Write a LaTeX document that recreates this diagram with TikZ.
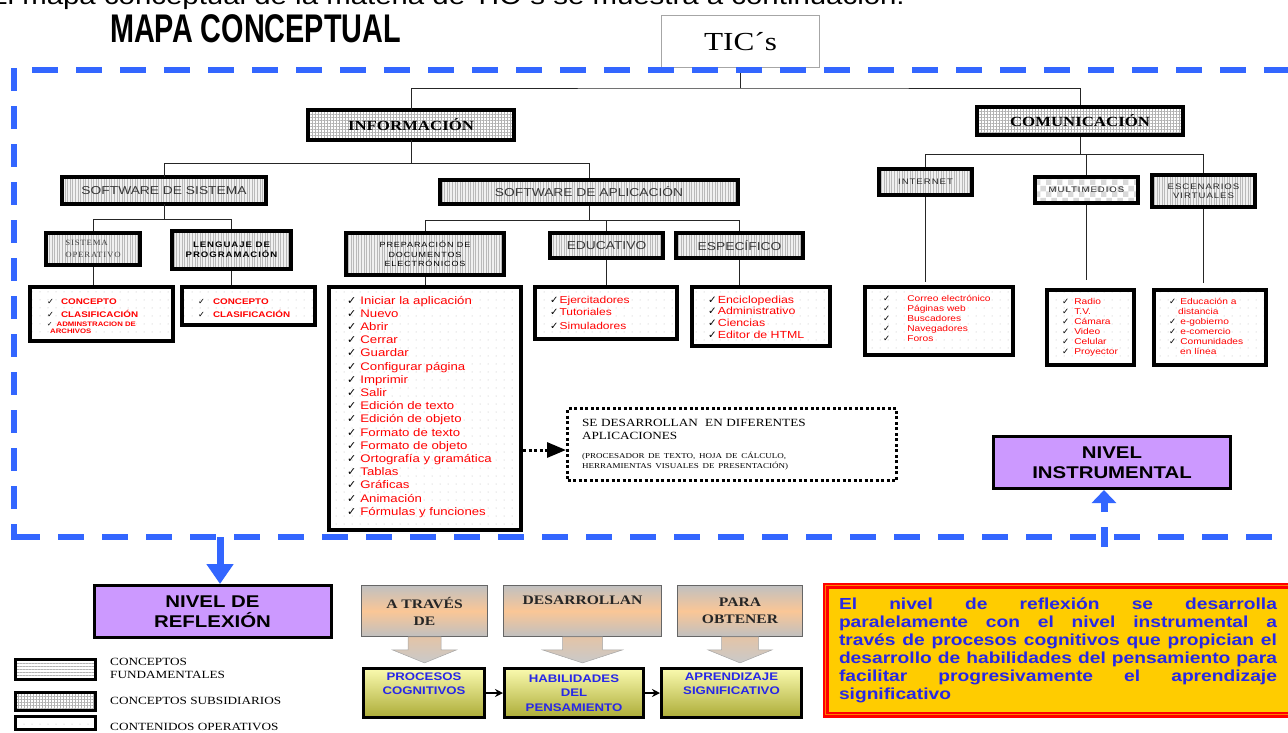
\documentclass[tikz,border=0pt]{standalone}
\usepackage{fontspec}
\setmainfont[FakeStretch=1.2]{Liberation Serif}
\newfontfamily\sansw[FakeStretch=1.2]{Liberation Sans}
\newfontfamily\sansls[FakeStretch=1.2,LetterSpace=12]{Liberation Sans}
\newfontfamily\serifls[FakeStretch=1.1,LetterSpace=10]{Liberation Serif}
\newfontfamily\mapfont[FakeStretch=0.72]{Liberation Sans}
\newfontfamily\chkfont{DejaVu Sans}
\usetikzlibrary{patterns,patterns.meta,arrows.meta,calc}

\definecolor{frameblue}{RGB}{51,102,255}
\definecolor{lilac}{RGB}{204,153,255}
\definecolor{peach}{RGB}{250,198,150}
\definecolor{ogray}{RGB}{192,192,192}
\definecolor{lightyel}{RGB}{250,250,175}
\definecolor{olive2}{RGB}{172,172,55}
\definecolor{txtblue}{RGB}{40,40,230}
\definecolor{gold}{RGB}{255,204,0}
\definecolor{labgray}{RGB}{55,55,55}

\newcommand{\fsz}[2]{\fontsize{#1}{#2}\selectfont}
\newcommand{\ck}[1][4pt]{{\chkfont\color{black}\char"2713}\hspace{#1}}
\newcommand{\lstlines}[1]{\parbox[t]{220pt}{\raggedright\leavevmode #1}}
\newcommand{\jline}[1]{\makebox[438pt][l]{#1}}
% block arrow below a box: node, half shaft, half head
\newcommand{\blkarrow}[3]{\draw[blkarr] ($(#1.south)+(-#2,0)$) -- ++(2*#2,0) -- ++(0,13) -- ++(#3-#2,0) -- ($(#1.south)+(0,26)$) -- ($(#1.south)+(-#3,13)$) -- ++(#3-#2,0) -- cycle;}

\begin{document}
\begin{tikzpicture}[x=1pt,y=-1pt,
  conn/.style={draw=black!85,line width=0.9pt},
  thickbox/.style={draw,line width=3.5pt,inner sep=0pt,align=center},
  fund/.style={thickbox,preaction={fill=gray!12},pattern={Lines[angle=90,distance=2.6pt,line width=0.7pt]},pattern color=gray!55,text=labgray},
  subs/.style={thickbox,preaction={fill=white},pattern={Hatch[angle=0,distance=3pt,line width=0.5pt]},pattern color=gray!60},
  oper/.style={thickbox,line width=4pt,preaction={fill=white},pattern={Dots[distance=8pt,radius=0.5pt]},pattern color=gray!55},
  lsttxt/.style={anchor=base west,inner sep=0pt,text=red},
  nivel/.style={draw,line width=3pt,fill=lilac,minimum width=237,minimum height=52,align=center,font=\sansw\bfseries\fsz{17}{20}},
  obox/.style={draw=black!60,line width=0.8pt,top color=ogray,bottom color=ogray,middle color=peach,minimum height=51,align=center,font=\bfseries\fsz{13}{17},text=black!85},
  gbox/.style={draw,line width=3pt,top color=lightyel,bottom color=olive2,minimum height=49,align=center,font=\sansw\bfseries\fsz{11}{14.5},text=txtblue},
  blkarr/.style={draw=gray!70,line width=0.5pt,top color=peach!60!ogray,bottom color=ogray!85},
  bluearr/.style={frameblue,line width=7pt},
  bluedash/.style={frameblue,line width=5.5pt}]
\useasboundingbox (0,0) rectangle (1288,732);
\clip (0,0) rectangle (1288,732);

% heading
\node[anchor=base east,inner sep=0pt,font=\sansw\fsz{24.5}{26}] (intro) at (905,4) {El mapa conceptual de la materia de TIC´s se muestra a continuación.};
\node[anchor=base west,inner sep=0pt,font=\mapfont\bfseries\fsz{40}{44}] (title) at (110,42) {MAPA CONCEPTUAL};

% main boxes
\node[draw=gray!70,line width=1pt,fill=white,minimum width=158,minimum height=52,font=\fsz{26}{28}] (tic) at (740.5,41.5) {TIC´s};
\node[subs,minimum width=206,minimum height=30,font=\bfseries\fsz{14}{16}] (info) at (411,125) {INFORMACIÓN};
\node[subs,minimum width=206,minimum height=28,font=\bfseries\fsz{14}{16}] (com) at (1080,121) {COMUNICACIÓN};

\node[fund,minimum width=204,minimum height=27,font=\sansw\fsz{11.5}{13}] (sws) at (164,190.5) {SOFTWARE DE SISTEMA};
\node[fund,minimum width=298,minimum height=24,font=\sansw\fsz{11.5}{13}] (swa) at (589,192) {SOFTWARE DE APLICACIÓN};
\node[fund,minimum width=94,minimum height=32,font=\serifls\fsz{8}{12},align=left,text=black!75] (so) at (93,249) {SISTEMA\\OPERATIVO};
\node[fund,minimum width=119,minimum height=38,font=\sansls\bfseries\fsz{8}{10},text=black] (lp) at (231.5,250) {LENGUAJE DE\\PROGRAMACIÓN};
\node[fund,minimum width=158,minimum height=42,font=\sansls\fsz{7.5}{9.5},text=black] (prep) at (425,254) {PREPARACIÓN DE\\DOCUMENTOS\\ELECTRÓNICOS};
\node[fund,minimum width=113,minimum height=25,font=\sansw\fsz{11.5}{13}] (edu) at (606.5,245.5) {EDUCATIVO};
\node[fund,minimum width=127,minimum height=25,font=\sansw\fsz{11.5}{13}] (esp) at (739.5,245.5) {ESPECÍFICO};

\node[fund,minimum width=93,minimum height=26,font=\sansls\fsz{8}{9.5},text=black!85] (inet) at (925.5,182) {INTERNET};
\node[thickbox,preaction={fill=white},pattern=checkerboard,pattern color=gray!30,minimum width=103,minimum height=26,font=\sansls\fsz{8}{9.5},text=black!85] (mm) at (1086.5,190) {MULTIMEDIOS};
\node[fund,minimum width=103,minimum height=32,font=\sansls\fsz{8}{9.5},text=black!85] (ev) at (1203.5,191) {ESCENARIOS\\VIRTUALES};

% list boxes
\node[oper,minimum width=143,minimum height=54] (sol) at (101.5,314) {};
\node[oper,minimum width=133,minimum height=38] (lpl) at (248.5,306) {};
\node[oper,minimum width=192,minimum height=243] (prepl) at (425,408.5) {};
\node[oper,minimum width=142,minimum height=52] (edul) at (606,313) {};
\node[oper,minimum width=138,minimum height=59] (espl) at (761,316.5) {};
\node[oper,minimum width=148,minimum height=68] (inetl) at (939,321) {};
\node[oper,minimum width=87,minimum height=75] (mml) at (1090.5,327.5) {};
\node[oper,minimum width=112,minimum height=75] (evl) at (1210,327.5) {};

% list texts
\node[lsttxt,font=\sansw\bfseries\fsz{8.2}{13}] (solt) at (47,304) {\lstlines{\ck[7pt]CONCEPTO\\ \ck[7pt]CLASIFICACIÓN\\[-4pt] {\fsz{6.5}{7}\ck[4pt]ADMINSTRACION DE}\\[-6pt] \hspace*{3pt}{\fsz{6.5}{7}ARCHIVOS}}};
\node[lsttxt,font=\sansw\bfseries\fsz{8.2}{13}] (lplt) at (198,304) {\lstlines{\ck[8pt]CONCEPTO\\ \ck[8pt]CLASIFICACIÓN}};
\node[lsttxt,font=\sansw\fsz{11}{13.2}] (prept) at (347,304) {\lstlines{\ck Iniciar la aplicación\\ \ck Nuevo\\ \ck Abrir\\ \ck Cerrar\\ \ck Guardar\\ \ck Configurar página\\ \ck Imprimir\\ \ck Salir\\ \ck Edición de texto\\ \ck Edición de objeto\\ \ck Formato de texto\\ \ck Formato de objeto\\ \ck Ortografía y gramática\\ \ck Tablas\\ \ck Gráficas\\ \ck Animación\\ \ck Fórmulas y funciones}};
\node[lsttxt,font=\sansw\fsz{10}{12}] (edult) at (550,303) {\lstlines{\ck[1pt]Ejercitadores\\ \ck[1pt]Tutoriales\\[2pt] \ck[1pt]Simuladores}};
\node[lsttxt,font=\sansw\fsz{10.3}{11.7}] (esplt) at (708,303) {\lstlines{\ck[1pt]Enciclopedias\\ \ck[1pt]Administrativo\\ \ck[1pt]Ciencias\\ \ck[1pt]Editor de HTML}};
\node[lsttxt,font=\sansw\fsz{8.5}{10}] (inetlt) at (883,301) {\lstlines{\ck[17pt]Correo electrónico\\ \ck[17pt]Páginas web\\ \ck[17pt]Buscadores\\ \ck[17pt]Navegadores\\ \ck[17pt]Foros}};
\node[lsttxt,font=\sansw\fsz{8.5}{10}] (mmlt) at (1062,304) {\lstlines{\ck[5pt]Radio\\ \ck[5pt]T.V.\\ \ck[5pt]Cámara\\ \ck[5pt]Video\\ \ck[5pt]Celular\\ \ck[5pt]Proyector}};
\node[lsttxt,font=\sansw\fsz{8.5}{10}] (evlt) at (1169,304) {\lstlines{\ck[4pt]Educación a\\ \hspace*{9pt}distancia\\ \ck[4pt]e-gobierno\\ \ck[4pt]e-comercio\\ \ck[4pt]Comunidades\\ \hspace*{11pt}en línea}};

% tree connectors
\draw[conn] (tic.south) -- ++(0,20) coordinate (t1);
\draw[conn] (info.north) |- (t1) -| (com.north);
\draw[conn] (info.south) -- ++(0,23) coordinate (i1);
\draw[conn] (sws.north) |- (i1) -| (swa.north);
\draw[conn] (sws.south) -- ++(0,15) coordinate (s1);
\draw[conn] (so.north) |- (s1) -| (lp.north);
\draw[conn] (so.south) -- (so.south |- sol.north);
\draw[conn] (lp.south) -- (lp.south |- lpl.north);
\draw[conn] (swa.south) -- ++(0,15) coordinate (a1);
\draw[conn] (prep.north) |- (a1) -| (esp.north);
\draw[conn] (edu.north) -- (edu.north |- a1);
\draw[conn] (prep.south) -- (prep.south |- prepl.north);
\draw[conn] (edu.south) -- (edu.south |- edul.north);
\draw[conn] (esp.south) -- (esp.south |- espl.north);
\draw[conn] (com.south) -- ++(0,18) coordinate (c1);
\draw[conn] (inet.north) |- (c1) -| (ev.north);
\draw[conn] (mm.north) -- (mm.north |- c1);
\draw[conn] (inet.south) -- ($(inet.south |- inetl.north)+(0,-3)$);
\draw[conn] (mm.south) -- ($(mm.south |- mml.north)+(0,-8)$);
\draw[conn] (ev.south) -- ($(ev.south |- evl.north)+(0,-5)$);

% applications note
\node[draw,line width=3pt,dash pattern=on 3pt off 2.5pt,minimum width=329,minimum height=72,text width=300pt,align=left,inner sep=0pt,font=\fsz{11}{10}] (sed) at (732,444.5) {SE DESARROLLAN\ \ EN DIFERENTES\\[3pt] APLICACIONES\\[9pt] {\fsz{7.5}{10}(PROCESADOR DE TEXTO, HOJA DE CÁLCULO,}\\ {\fsz{7.5}{10}HERRAMIENTAS VISUALES DE PRESENTACIÓN)}};
\coordinate (darr) at (0,450);
\draw[line width=3pt,dash pattern=on 3pt off 2.5pt,-{Triangle[length=19pt,width=15pt]}] (prepl.east |- darr) -- (sed.west |- darr);

% levels
\node[nivel] (instr) at (1112,462.5) {NIVEL\\INSTRUMENTAL};
\node[nivel] (refl) at (212.5,611.5) {NIVEL DE\\REFLEXIÓN};

% dashed frame
\draw[bluedash,dash pattern=on 26pt off 18pt,dash phase=26pt] (14,70) -- (1300,70);
\draw[bluedash,dash pattern=on 23pt off 15pt] (14,68) -- (14,540);
\draw[bluedash,dash pattern=on 26pt off 18pt] (14,537) -- (1300,537);
\coordinate (rtop) at (220,537);
\draw[bluearr,-{Triangle[width=26pt,length=20pt]}] (rtop) -- (rtop |- refl.north);
\coordinate (ibot) at (1104,547);
\draw[bluearr,dash pattern=on 20pt off 15pt,-{Triangle[width=24pt,length=13pt]}] (ibot) -- (ibot |- instr.south);

% legend
\node[thickbox,preaction={fill=white},pattern={Lines[angle=0,distance=3pt,line width=0.8pt]},pattern color=gray!60,minimum width=80,minimum height=20] (lg1) at (55.5,669.5) {};
\node[subs,minimum width=80,minimum height=18] (lg2) at (55.5,701.5) {};
\node[oper,line width=3.5pt,minimum width=80,minimum height=13] (lg3) at (55.5,723) {};
\node[anchor=base west,inner sep=0pt,font=\fsz{11}{13}] (lgt1) at (110,665) {\lstlines{CONCEPTOS\\FUNDAMENTALES}};
\node[anchor=base west,inner sep=0pt,font=\fsz{11}{13}] (lgt2) at (110,704) {CONCEPTOS SUBSIDIARIOS};
\node[anchor=base west,inner sep=0pt,font=\fsz{11}{13}] (lgt3) at (110,730) {CONTENIDOS OPERATIVOS};

% process chain
\node[obox,minimum width=126] (oa) at (424.5,611) {A TRAVÉS\\DE};
\node[obox,minimum width=158] (ob) at (582.5,611) {DESARROLLAN\\\strut};
\node[obox,minimum width=125] (oc) at (740,611) {PARA\\OBTENER};
\node[gbox,minimum width=121] (ga) at (424,693) {PROCESOS\\COGNITIVOS\\\strut};
\node[gbox,minimum width=139] (gb) at (574,693) {HABILIDADES\\DEL\\PENSAMIENTO};
\node[gbox,minimum width=140] (gc) at (731.5,693) {APRENDIZAJE\\SIGNIFICATIVO\\\strut};
\blkarrow{oa}{16.5}{32}
\blkarrow{ob}{20}{40}
\blkarrow{oc}{18.5}{32}
\draw[line width=1.5pt,-{Stealth[length=8pt,width=8pt]}] (ga.east) -- (gb.west);
\draw[line width=1.5pt,-{Stealth[length=8pt,width=8pt]}] (gb.east) -- (gc.west);

% summary
\node[draw=red,line width=2.5pt,double=orange,double distance=1pt,fill=gold,minimum width=465,minimum height=129,text width=438pt,align=left,inner sep=0pt,font=\sansw\bfseries\fsz{16}{18},text=txtblue] (par) at (1058,650) {\jline{El\hfill nivel\hfill de\hfill reflexión\hfill se\hfill desarrolla}\\
\jline{paralelamente\hfill con\hfill el\hfill nivel\hfill instrumental\hfill a}\\
\jline{través\hfill de\hfill procesos\hfill cognitivos\hfill que\hfill propician\hfill el}\\
\jline{desarrollo\hfill de\hfill habilidades\hfill del\hfill pensamiento\hfill para}\\
\jline{facilitar\hfill progresivamente\hfill el\hfill aprendizaje}\\
significativo};
\end{tikzpicture}
\end{document}
